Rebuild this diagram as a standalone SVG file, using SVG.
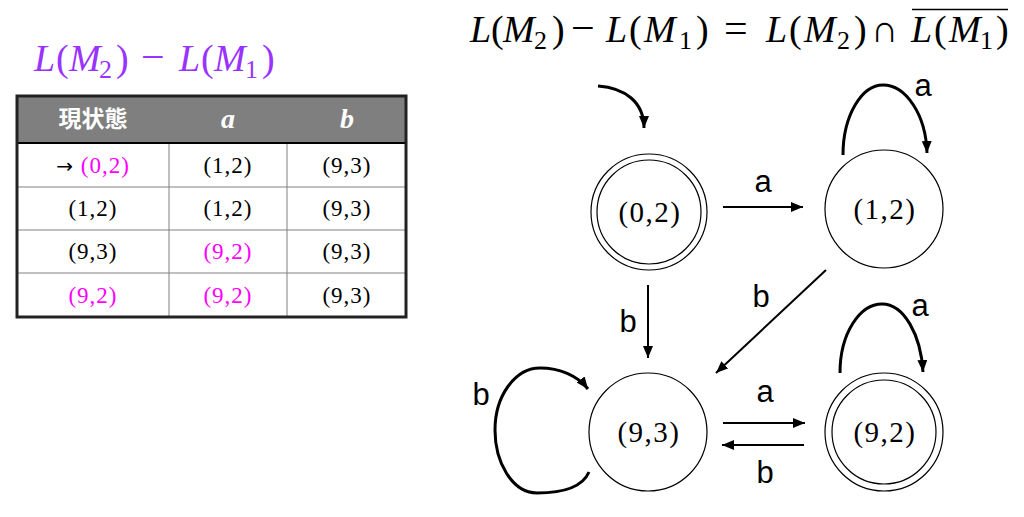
<svg xmlns="http://www.w3.org/2000/svg" width="1024" height="517" viewBox="0 0 1024 517">
<style>
.math{font-family:"Liberation Serif","DejaVu Serif",serif;}
.it{font-style:italic;}
.sub{font-size:26px;}
.op{font-size:42px;}
.node{fill:#fff;stroke:#000;stroke-width:1.2;}
.nt{font-family:"Liberation Serif","DejaVu Serif",serif;font-size:29px;letter-spacing:1.5px;text-anchor:middle;fill:#000;}
.lbl{font-family:"Liberation Sans","Open Sans",sans-serif;font-size:31px;text-anchor:middle;fill:#000;}
.cell{font-family:"Liberation Serif","DejaVu Serif",serif;font-size:23px;letter-spacing:1px;text-anchor:middle;fill:#000;}
.mg{fill:#ff00ff;}
.edge{fill:none;stroke:#000;stroke-width:2;marker-end:url(#ah);}
.loop{fill:none;stroke:#000;stroke-width:3;marker-end:url(#ah);}
</style>
<defs>
<marker id="ah" markerUnits="userSpaceOnUse" markerWidth="12" markerHeight="10" refX="12" refY="5" orient="auto">
<path d="M0,0 L12,5 L0,10 z" fill="#000"/>
</marker>
</defs>
<rect width="1024" height="517" fill="#fff"/>

<!-- left title -->
<g id="title-left" class="math" fill="#9933ff" font-size="38">
<text y="71"><tspan x="34" class="it">L</tspan><tspan x="56">(</tspan><tspan x="69" class="it">M</tspan><tspan x="99" y="78" class="sub">2</tspan><tspan x="116" y="71">)</tspan><tspan x="141" class="op">−</tspan><tspan x="179" class="it">L</tspan><tspan x="201">(</tspan><tspan x="214" class="it">M</tspan><tspan x="245" y="78" class="sub">1</tspan><tspan x="262" y="71">)</tspan></text>
</g>

<!-- top formula -->
<g id="formula" class="math" fill="#000" font-size="38">
<text y="42"><tspan x="470" class="it">L</tspan><tspan x="491">(</tspan><tspan x="503" class="it">M</tspan><tspan x="534" y="49" class="sub">2</tspan><tspan x="552" y="42">)</tspan><tspan x="571" class="op">−</tspan><tspan x="606" class="it">L</tspan><tspan x="629">(</tspan><tspan x="644" class="it">M</tspan><tspan x="679" y="49" class="sub">1</tspan><tspan x="696" y="42">)</tspan><tspan x="724" class="op">=</tspan><tspan x="766" class="it">L</tspan><tspan x="789">(</tspan><tspan x="804" class="it">M</tspan><tspan x="837" y="49" class="sub">2</tspan><tspan x="854" y="42">)</tspan><tspan x="871">∩</tspan><tspan x="911" class="it">L</tspan><tspan x="934">(</tspan><tspan x="949" class="it">M</tspan><tspan x="980" y="49" class="sub">1</tspan><tspan x="996" y="42">)</tspan></text>
<line x1="912" y1="9.5" x2="1008" y2="9.5" stroke="#000" stroke-width="1.5"/>
</g>

<!-- table -->
<g id="table">
<rect x="17" y="96" width="389" height="221" fill="#fff"/>
<rect x="17" y="96" width="389" height="47" fill="#7f7f7f"/>
<g stroke="#808080" stroke-width="1">
<line x1="169" y1="96" x2="169" y2="317"/>
<line x1="287" y1="96" x2="287" y2="317"/>
<line x1="17" y1="187" x2="406" y2="187"/>
<line x1="17" y1="230" x2="406" y2="230"/>
<line x1="17" y1="273" x2="406" y2="273"/>
</g>
<line x1="17" y1="143" x2="406" y2="143" stroke="#000" stroke-width="2"/>
<rect x="17" y="96" width="389" height="221" fill="none" stroke="#222" stroke-width="3"/>
<text x="93" y="127" font-family="'Noto Sans CJK JP','Noto Sans CJK SC',sans-serif" font-size="23" font-weight="bold" fill="#fff" text-anchor="middle">現状態</text>
<text x="228" y="128" class="math" font-size="28" font-style="italic" font-weight="bold" fill="#fff" text-anchor="middle">a</text>
<text x="347" y="128" class="math" font-size="28" font-style="italic" font-weight="bold" fill="#fff" text-anchor="middle">b</text>
<text x="93" y="173" class="cell"><tspan font-family="'DejaVu Sans',sans-serif" font-size="20">→</tspan> <tspan class="mg">(0,2)</tspan></text>
<text x="228" y="173" class="cell">(1,2)</text>
<text x="347" y="173" class="cell">(9,3)</text>
<text x="93" y="216" class="cell">(1,2)</text>
<text x="228" y="216" class="cell">(1,2)</text>
<text x="347" y="216" class="cell">(9,3)</text>
<text x="93" y="259" class="cell">(9,3)</text>
<text x="228" y="259" class="cell mg">(9,2)</text>
<text x="347" y="259" class="cell">(9,3)</text>
<text x="93" y="303" class="cell mg">(9,2)</text>
<text x="228" y="303" class="cell mg">(9,2)</text>
<text x="347" y="303" class="cell">(9,3)</text>
</g>

<!-- nodes -->
<g id="n02">
<circle cx="649" cy="212" r="58" class="node"/>
<circle cx="649" cy="212" r="52" class="node"/>
<text x="650" y="222" class="nt">(0,2)</text>
</g>
<g id="n12">
<circle cx="884" cy="209" r="59" class="node"/>
<text x="885" y="219" class="nt">(1,2)</text>
</g>
<g id="n93">
<circle cx="648" cy="432" r="59" class="node"/>
<text x="649" y="442" class="nt">(9,3)</text>
</g>
<g id="n92">
<circle cx="884" cy="432" r="59" class="node"/>
<circle cx="884" cy="432" r="52" class="node"/>
<text x="885" y="442" class="nt">(9,2)</text>
</g>

<!-- connectors -->
<g id="edges">
<path class="loop" d="M598,86 C625,88 644,102 644,128"/>
<path class="edge" d="M723,207 L803,207"/>
<path class="loop" d="M843,155 C843,115 862,85 883,85 C906,85 926,115 927,153"/>
<path class="edge" d="M648,285 L648,358"/>
<path class="edge" d="M826,270 L716,373"/>
<path class="loop" d="M589,472 C582,488 562,493 537,493 C512,493 495,462 495,430 C495,396 515,368 540,368 C560,368 578,376 588,389"/>
<path class="loop" d="M840,373 C840,333 860,304 882,304 C904,304 921,335 923,372"/>
<path class="edge" d="M723,423 L805,423"/>
<path class="edge" d="M804,445 L722,445"/>
</g>

<g id="labels">
<text x="763" y="192" class="lbl">a</text>
<text x="923" y="96" class="lbl">a</text>
<text x="628" y="332" class="lbl">b</text>
<text x="761" y="307" class="lbl">b</text>
<text x="920" y="316" class="lbl">a</text>
<text x="481" y="405" class="lbl">b</text>
<text x="765" y="402" class="lbl">a</text>
<text x="765" y="483" class="lbl">b</text>
</g>
</svg>
